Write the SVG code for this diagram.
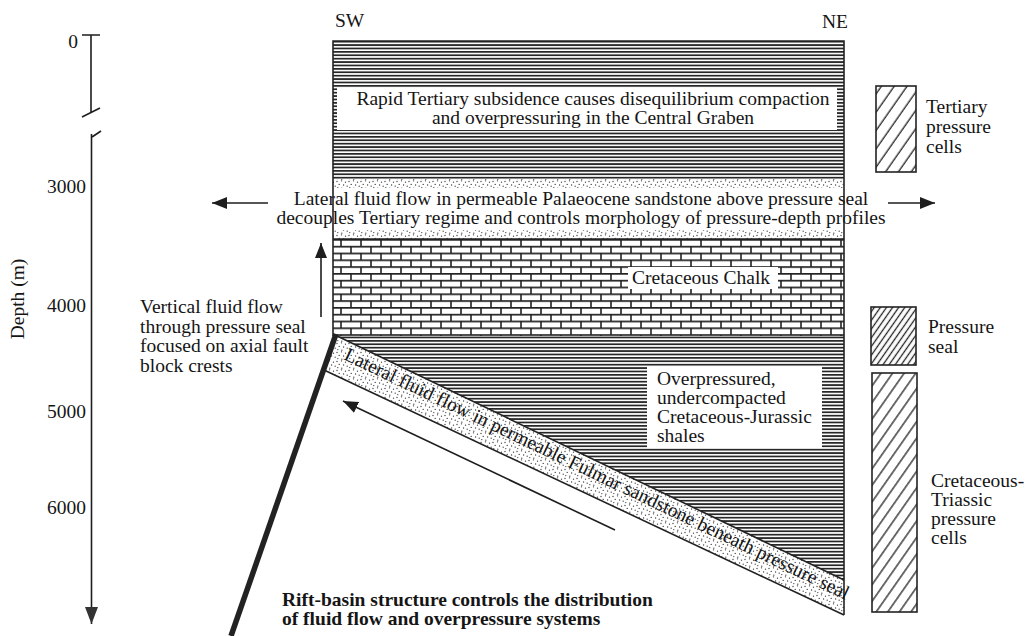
<svg xmlns="http://www.w3.org/2000/svg" width="1027" height="636" viewBox="0 0 1027 636">
  <style>
    text { font-family: "Liberation Serif", "Times New Roman", serif; font-size: 19.5px; fill: #151515; }
    .bold { font-weight: bold; }
    .mid { text-anchor: middle; }
    .end { text-anchor: end; }
    .edge { fill: none; stroke: #222; stroke-width: 1.6; }
    .box { stroke: #222; stroke-width: 1.6; }
    .flow { fill: none; stroke: #1e1e1e; stroke-width: 1.6; }
    .blank { fill: #fff; }
  </style>
  <defs>
    <!-- shale: dense horizontal ruling -->
    <pattern id="shale" width="8" height="3.4" patternUnits="userSpaceOnUse">
      <rect width="8" height="3.4" fill="#fff"/>
      <rect width="8" height="1.75" fill="#272727"/>
    </pattern>
    <!-- chalk: brick symbol -->
    <pattern id="chalk" x="0" y="239" width="20" height="13.6" patternUnits="userSpaceOnUse">
      <rect width="20" height="13.6" fill="#fff"/>
      <path d="M0,0.8H20M0,7.6H20M1,0V6.8M11,6.8V13.6" stroke="#222" stroke-width="1.6"/>
    </pattern>
    <!-- sandstone: stipple -->
    <pattern id="sand" width="12" height="9" patternUnits="userSpaceOnUse">
      <rect width="12" height="9" fill="#fff"/>
      <g fill="#3a3a3a">
        <circle cx="1" cy="1.5" r="0.65"/>
        <circle cx="5.5" cy="0.8" r="0.65"/>
        <circle cx="9.5" cy="2.2" r="0.65"/>
        <circle cx="3.2" cy="4.4" r="0.65"/>
        <circle cx="7.6" cy="5" r="0.65"/>
        <circle cx="11.2" cy="6.2" r="0.65"/>
        <circle cx="1.8" cy="7.6" r="0.65"/>
        <circle cx="5.8" cy="8.2" r="0.65"/>
      </g>
    </pattern>
    <!-- legend hatching -->
    <pattern id="hatchWide" width="10.5" height="20" patternUnits="userSpaceOnUse" patternTransform="rotate(35)">
      <rect width="10.5" height="20" fill="#fff"/>
      <line x1="5" y1="0" x2="5" y2="20" stroke="#222" stroke-width="1.3"/>
    </pattern>
    <pattern id="hatchDense" width="5" height="20" patternUnits="userSpaceOnUse" patternTransform="rotate(35)">
      <rect width="5" height="20" fill="#fff"/>
      <line x1="2.5" y1="0" x2="2.5" y2="20" stroke="#222" stroke-width="1.3"/>
    </pattern>
    <pattern id="hatchMid" width="9.5" height="20" patternUnits="userSpaceOnUse" patternTransform="rotate(35)">
      <rect width="9.5" height="20" fill="#fff"/>
      <line x1="4.7" y1="0" x2="4.7" y2="20" stroke="#222" stroke-width="1.3"/>
    </pattern>
    <marker id="head" viewBox="0 0 15 12" refX="15" refY="6" markerWidth="15" markerHeight="12" markerUnits="userSpaceOnUse" orient="auto">
      <path d="M0,0L15,6L0,12Z" fill="#1e1e1e"/>
    </marker>
    <marker id="headAxis" viewBox="0 0 17 13" refX="17" refY="6.5" markerWidth="17" markerHeight="13" markerUnits="userSpaceOnUse" orient="auto">
      <path d="M0,0L17,6.5L0,13Z" fill="#333"/>
    </marker>
  </defs>

  <rect width="1027" height="636" fill="#fff"/>

  <!-- depth axis -->
  <g id="depth-axis">
    <path class="flow" d="M82,35H100M91,35V113M82,117L100,108M92,137L101,131"/>
    <line class="flow" x1="91.5" y1="134" x2="91.5" y2="624" marker-end="url(#headAxis)"/>
    <text class="end" x="78" y="48">0</text>
    <text class="end" x="86" y="193">3000</text>
    <text class="end" x="86" y="312">4000</text>
    <text class="end" x="86" y="418">5000</text>
    <text class="end" x="86" y="514">6000</text>
    <text class="mid" transform="translate(24,299) rotate(-90)">Depth (m)</text>
  </g>

  <text id="label-sw" x="335" y="27">SW</text>
  <text id="label-ne" x="822" y="28">NE</text>

  <!-- Tertiary shale -->
  <g id="tertiary-shale">
    <rect x="333" y="41" width="511" height="138" fill="url(#shale)"/>
    <rect class="blank" x="337" y="88" width="500" height="42"/>
    <text class="mid" x="593" y="105">Rapid Tertiary subsidence causes disequilibrium compaction</text>
    <text class="mid" x="593" y="124">and overpressuring in the Central Graben</text>
  </g>

  <!-- Palaeocene sandstone -->
  <g id="palaeocene-sandstone">
    <rect x="333" y="179" width="511" height="60" fill="url(#sand)"/>
    <rect class="blank" x="333" y="188" width="511" height="42"/>
    <text class="mid" x="581" y="205">Lateral fluid flow in permeable Palaeocene sandstone above pressure seal</text>
    <text class="mid" x="581" y="224">decouples Tertiary regime and controls morphology of pressure-depth profiles</text>
  </g>

  <!-- Cretaceous chalk -->
  <g id="cretaceous-chalk">
    <rect x="333" y="239" width="511" height="97" fill="url(#chalk)"/>
    <rect class="blank" x="628" y="267" width="150" height="22"/>
    <text x="632" y="284">Cretaceous Chalk</text>
  </g>

  <!-- Cretaceous-Jurassic shales -->
  <g id="lower-shale">
    <polygon points="335,336 844,336 844,580" fill="url(#shale)"/>
    <rect class="blank" x="647" y="367" width="175" height="81"/>
    <text x="657" y="385">Overpressured,</text>
    <text x="657" y="404">undercompacted</text>
    <text x="657" y="423">Cretaceous-Jurassic</text>
    <text x="657" y="442">shales</text>
  </g>

  <!-- Fulmar sandstone -->
  <g id="fulmar-sandstone">
    <polygon points="335,335 844,580 844,615 324,370" fill="url(#sand)"/>
    <path class="edge" d="M335,335L844,580M324,370L844,615M844,580V615" stroke-width="1.3"/>
    <text transform="translate(343,359) rotate(25.6)">Lateral fluid flow in permeable Fulmar sandstone beneath pressure seal</text>
  </g>

  <!-- column outline -->
  <path id="column-outline" class="edge" d="M333,336V41H844V580M333,239H844M333,41H844"/>

  <!-- bounding fault -->
  <line id="fault" x1="336" y1="334" x2="231" y2="636" stroke="#222" stroke-width="5.5"/>

  <g id="vertical-flow-label">
    <text x="140" y="313">Vertical fluid flow</text>
    <text x="140" y="333">through pressure seal</text>
    <text x="140" y="352">focused on axial fault</text>
    <text x="140" y="372">block crests</text>
  </g>

  <g id="rift-label">
    <text class="bold" x="282" y="606">Rift-basin structure controls the distribution</text>
    <text class="bold" x="282" y="625">of fluid flow and overpressure systems</text>
  </g>

  <!-- legend -->
  <g id="legend-tertiary">
    <rect class="box" x="876" y="86" width="40" height="86" fill="url(#hatchWide)"/>
    <text x="926" y="113">Tertiary</text>
    <text x="926" y="133">pressure</text>
    <text x="926" y="153">cells</text>
  </g>
  <g id="legend-seal">
    <rect class="box" x="871" y="307" width="45" height="58" fill="url(#hatchDense)"/>
    <text x="928" y="333">Pressure</text>
    <text x="928" y="353">seal</text>
  </g>
  <g id="legend-cretaceous-triassic">
    <rect class="box" x="872" y="373" width="45" height="239" fill="url(#hatchMid)"/>
    <text x="931" y="487">Cretaceous-</text>
    <text x="931" y="506">Triassic</text>
    <text x="931" y="525">pressure</text>
    <text x="931" y="544">cells</text>
  </g>

  <!-- flow arrows -->
  <g id="connectors">
    <line class="flow" x1="268" y1="203" x2="212" y2="203" marker-end="url(#head)"/>
    <line class="flow" x1="888" y1="203" x2="935" y2="203" marker-end="url(#head)"/>
    <line class="flow" x1="321" y1="317" x2="321" y2="243" marker-end="url(#head)"/>
    <line class="flow" x1="615" y1="530" x2="343" y2="401" marker-end="url(#head)"/>
  </g>
</svg>
